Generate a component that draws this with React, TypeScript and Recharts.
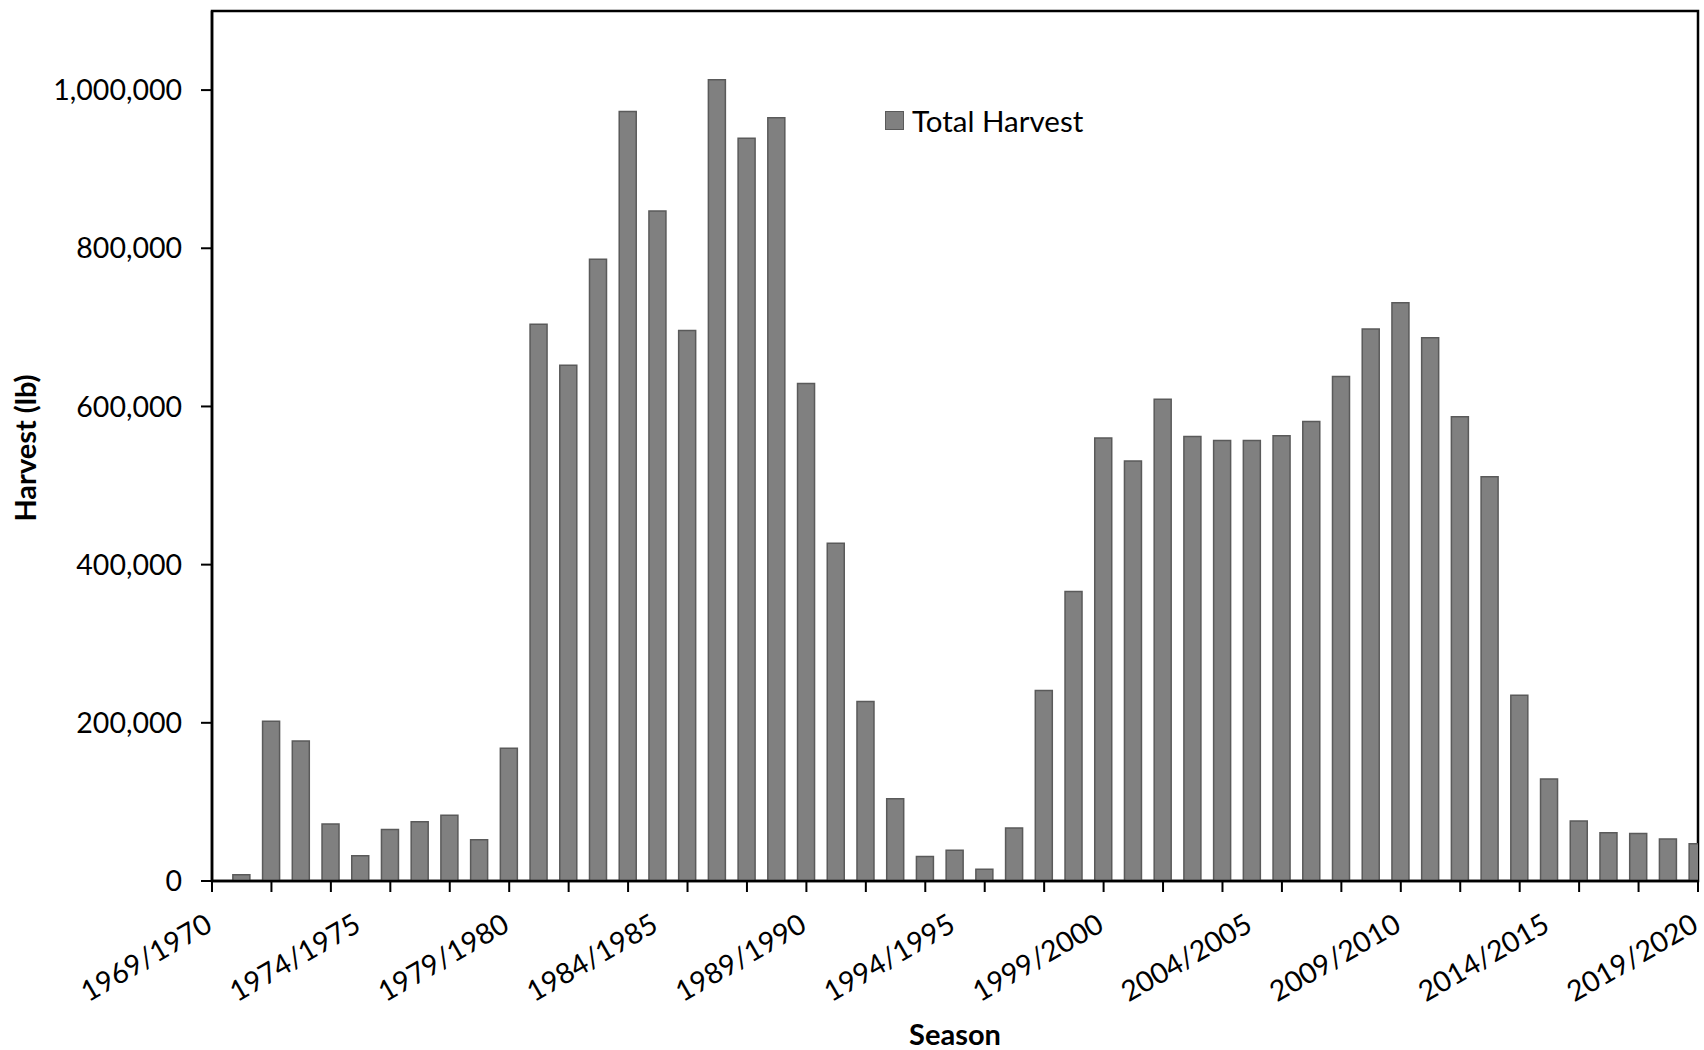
import React from 'react';
import { BarChart, Bar, XAxis, YAxis, Legend, ReferenceArea } from 'recharts';

const FONT = 'Lato, "Open Sans", sans-serif';

const seasons = [
  '1969/1970', '1970/1971', '1971/1972', '1972/1973', '1973/1974', '1974/1975',
  '1975/1976', '1976/1977', '1977/1978', '1978/1979', '1979/1980', '1980/1981',
  '1981/1982', '1982/1983', '1983/1984', '1984/1985', '1985/1986', '1986/1987',
  '1987/1988', '1988/1989', '1989/1990', '1990/1991', '1991/1992', '1992/1993',
  '1993/1994', '1994/1995', '1995/1996', '1996/1997', '1997/1998', '1998/1999',
  '1999/2000', '2000/2001', '2001/2002', '2002/2003', '2003/2004', '2004/2005',
  '2005/2006', '2006/2007', '2007/2008', '2008/2009', '2009/2010', '2010/2011',
  '2011/2012', '2012/2013', '2013/2014', '2014/2015', '2015/2016', '2016/2017',
  '2017/2018', '2018/2019', '2019/2020',
];

const totalHarvest: (number | null)[] = [
  null, 8000, 202000, 177000, 72000, 32000,
  65000, 75000, 83000, 52000, 168000, 704000,
  652000, 786000, 973000, 847000, 696000, 1013000,
  939000, 965000, 629000, 427000, 227000, 104000,
  31000, 39000, 15000, 67000, 241000, 366000,
  560000, 531000, 609000, 562000, 557000, 557000,
  563000, 581000, 638000, 698000, 731000, 687000,
  587000, 511000, 235000, 129000, 76000, 61000,
  60000, 53000, 47000,
];

const labelSeasons = [
  '1969/1970', '1974/1975', '1979/1980', '1984/1985', '1989/1990', '1994/1995',
  '1999/2000', '2004/2005', '2009/2010', '2014/2015', '2019/2020',
];

const tickMarkSeasons = [
  '1969/1970', '1971/1972', '1973/1974', '1975/1976', '1977/1978', '1979/1980',
  '1981/1982', '1983/1984', '1985/1986', '1987/1988', '1989/1990', '1991/1992',
  '1993/1994', '1995/1996', '1997/1998', '1999/2000', '2001/2002', '2003/2004',
  '2005/2006', '2007/2008', '2009/2010', '2011/2012', '2013/2014', '2015/2016',
  '2017/2018', '2019/2020',
];

const yTicks = [0, 200000, 400000, 600000, 800000, 1000000];
const yMax = 1100000;

const startYear = (s: string) => Number(s.slice(0, 4));

const data = seasons.map((s, i) => ({
  year: startYear(s),
  season: s,
  harvest: totalHarvest[i],
}));

const xTicks = data.map((d) => d.year);
const firstYear = xTicks[0];
const lastYear = xTicks[xTicks.length - 1];

const XTick = (props: any) => {
  const { x, y, payload } = props;
  const yr = payload.value;
  const mark = tickMarkSeasons.some((s) => startYear(s) === yr);
  const label = labelSeasons.find((s) => startYear(s) === yr);
  const lx = x + 2;
  const ly = y + 49;
  return (
    <g>
      {mark && <line x1={x} y1={y} x2={x} y2={y + 11} stroke="#000" strokeWidth={2} />}
      {label && (
        <text
          x={lx}
          y={ly}
          textAnchor="end"
          transform={`rotate(-30 ${lx} ${ly})`}
          fontFamily={FONT}
          fontSize={28.5}
          fill="#000"
        >
          {label}
        </text>
      )}
    </g>
  );
};

const YTitle = (props: any) => {
  const vb = props.viewBox || { x: 0, y: 11, width: 212, height: 870 };
  const cx = vb.x + 36;
  const cy = vb.y + vb.height / 2 + 2;
  return (
    <text
      x={cx}
      y={cy}
      transform={`rotate(-90 ${cx} ${cy})`}
      textAnchor="middle"
      fontFamily={FONT}
      fontWeight={700}
      fontSize={29}
      fill="#000"
    >
      Harvest (lb)
    </text>
  );
};

const XTitle = (props: any) => {
  const vb = props.viewBox || { x: 212, y: 881, width: 1486, height: 169 };
  const cx = vb.x + vb.width / 2;
  return (
    <text x={cx} y={1045} textAnchor="middle" fontFamily={FONT} fontWeight={700} fontSize={29} fill="#000">
      Season
    </text>
  );
};

const LegendBox = () => (
  <div style={{ display: 'flex', alignItems: 'center', height: 33, fontFamily: FONT, whiteSpace: 'nowrap' }}>
    <div
      style={{
        width: 17,
        height: 17,
        background: '#808080',
        border: '1.5px solid #5a5a5a',
        marginRight: 8,
      }}
    />
    <span style={{ fontSize: 29.5, lineHeight: '33px', color: '#000' }}>Total Harvest</span>
  </div>
);

export default function App() {
  return (
    <div style={{ position: 'absolute', left: 0, top: 0, width: 1704, height: 1050, background: '#fff' }}>
      <BarChart
        width={1704}
        height={1050}
        data={data}
        margin={{ top: 11, right: 6, bottom: 0, left: 0 }}
      >
        <XAxis
          dataKey="year"
          type="number"
          domain={[firstYear, lastYear]}
          allowDataOverflow
          ticks={xTicks}
          interval={0}
          tickLine={false}
          tickSize={0}
          tickMargin={0}
          tick={(p: any) => <XTick {...p} />}
          axisLine={{ stroke: '#000', strokeWidth: 2.5 }}
          height={169}
          label={{ content: (p: any) => <XTitle {...p} /> }}
        />
        <YAxis
          type="number"
          domain={[0, yMax]}
          ticks={yTicks}
          interval={0}
          width={212}
          tickSize={11}
          tickMargin={19}
          tickLine={{ stroke: '#000', strokeWidth: 2 }}
          axisLine={{ stroke: '#000', strokeWidth: 2.5 }}
          tick={{ fontSize: 28.5, fill: '#000', fontFamily: FONT }}
          tickFormatter={(v: number) => v.toLocaleString('en-US')}
          label={{ content: (p: any) => <YTitle {...p} /> }}
        />
        <Legend
          layout="vertical"
          align="center"
          verticalAlign="middle"
          wrapperStyle={{ left: 885, top: 104, width: 'auto' }}
          content={() => <LegendBox />}
        />
        <Bar
          dataKey="harvest"
          name="Total Harvest"
          fill="#808080"
          stroke="#5a5a5a"
          strokeWidth={1.5}
          barSize={17}
          isAnimationActive={false}
        />
        <ReferenceArea
          x1={firstYear}
          x2={lastYear}
          y1={0}
          y2={yMax}
          fill="none"
          fillOpacity={0}
          stroke="#000"
          strokeWidth={2.5}
        />
      </BarChart>
    </div>
  );
}
